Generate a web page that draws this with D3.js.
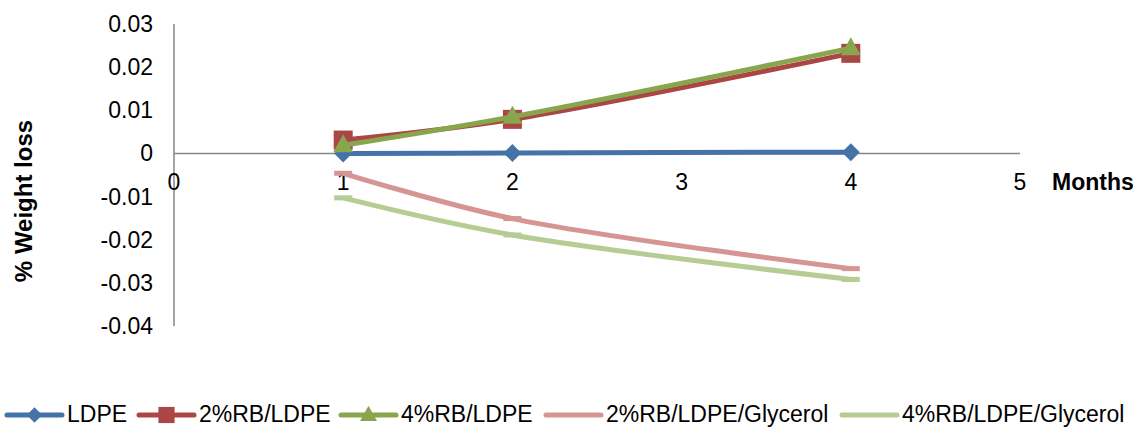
<!DOCTYPE html>
<html>
<head>
<meta charset="utf-8">
<script src="https://cdn.jsdelivr.net/npm/d3@7"></script>
<style>
  body { margin: 0; background: #fff; }
  svg { display: block; font-family: "Liberation Sans", Arial, sans-serif; }
</style>
</head>
<body>
<svg id="chart" width="1137" height="428"></svg>
<script>
// data
var months = [1, 2, 4];
var ldpe = [0.0000, 0.0001, 0.0003];
var rb2 = [0.0031, 0.0079, 0.0232];
var rb4 = [0.0019, 0.0085, 0.0244];
var rb2Gly = [-0.0046, -0.0151, -0.0267];
var rb4Gly = [-0.0103, -0.0189, -0.0292];
var xTicks = [0, 1, 2, 3, 4, 5];
var yTicks = [0.03, 0.02, 0.01, 0, -0.01, -0.02, -0.03, -0.04];

var series = [
    { name: "LDPE", values: ldpe, color: "#4572A7", marker: "diamond" },
    { name: "2%RB/LDPE", values: rb2, color: "#AA4643", marker: "square" },
    { name: "4%RB/LDPE", values: rb4, color: "#89A54E", marker: "triangle" },
    { name: "2%RB/LDPE/Glycerol", values: rb2Gly, color: "#D59593", marker: "dash" },
    { name: "4%RB/LDPE/Glycerol", values: rb4Gly, color: "#B5CC92", marker: "dash" }
];

var svg = d3.select("#chart");

var x = d3.scaleLinear().domain([0, 5]).range([174, 1020]);
var y = d3.scaleLinear().domain([-0.04, 0.03]).range([326, 24]);

// axes
var axisColor = "#868686";
svg.append("line")
    .attr("x1", x(0)).attr("x2", x(0))
    .attr("y1", y(0.03)).attr("y2", y(-0.04))
    .attr("stroke", axisColor).attr("stroke-width", 1.5);
svg.append("line")
    .attr("x1", x(0)).attr("x2", x(5))
    .attr("y1", y(0)).attr("y2", y(0))
    .attr("stroke", axisColor).attr("stroke-width", 1.5);

svg.selectAll(".ytick").data(yTicks).enter().append("text")
    .attr("class", "ytick")
    .attr("x", 153)
    .attr("y", (d) => y(d))
    .attr("dy", "0.35em")
    .attr("text-anchor", "end")
    .attr("font-size", 23)
    .text((d) => d === 0 ? "0" : d3.format(".2f")(d).replace("−", "-"));

svg.selectAll(".xtick").data(xTicks).enter().append("text")
    .attr("class", "xtick")
    .attr("x", (d) => x(d))
    .attr("y", 182)
    .attr("dy", "0.35em")
    .attr("text-anchor", "middle")
    .attr("font-size", 23)
    .text((d) => d);

svg.append("text")
    .attr("x", 1052).attr("y", 182).attr("dy", "0.35em")
    .attr("font-size", 23).attr("font-weight", "bold")
    .text("Months");

svg.append("text")
    .attr("transform", "translate(24,201) rotate(-90)")
    .attr("text-anchor", "middle")
    .attr("dy", "0.35em")
    .attr("font-size", 24).attr("font-weight", "bold")
    .text("% Weight loss");

function drawMarker(g, type, color) {
    if (type === "diamond") {
        g.append("path").attr("d", "M0,-9L9,0L0,9L-9,0Z").attr("fill", color);
    } else if (type === "square") {
        g.append("rect").attr("x", -9.5).attr("y", -9.5).attr("width", 19).attr("height", 19)
            .attr("fill", color);
    } else if (type === "triangle") {
        g.append("path").attr("d", "M0,-11L10,7L-10,7Z").attr("fill", color);
    } else if (type === "dash") {
        g.append("rect").attr("x", -9).attr("y", -2.5).attr("width", 18).attr("height", 5)
            .attr("fill", color);
    }
}

var lineGen = d3.line()
    .x((d, i) => x(months[i]))
    .y((d) => y(d))
    .curve(d3.curveCatmullRom.alpha(0.5));

// draw glycerol first, then solid series on top
var order = [3, 4, 0, 1, 2];
order.forEach(function (k) {
    var s = series[k];
    var g = svg.append("g");
    g.append("path")
        .datum(s.values)
        .attr("d", lineGen)
        .attr("fill", "none")
        .attr("stroke", s.color)
        .attr("stroke-width", 5)
        .attr("stroke-linejoin", "round");
    s.values.forEach(function (v, i) {
        var m = g.append("g").attr("transform", "translate(" + x(months[i]) + "," + y(v) + ")");
        drawMarker(m, s.marker, s.color);
    });
});

// legend
var legendY = 415;
var legendX = [7, 139, 341, 546, 842];
series.forEach(function (s, i) {
    var g = svg.append("g").attr("transform", "translate(" + legendX[i] + "," + legendY + ")");
    g.append("line")
        .attr("x1", 0).attr("x2", 55)
        .attr("stroke", s.color).attr("stroke-width", 5)
        .attr("stroke-linecap", "round");
    if (s.marker !== "dash") {
        var m = g.append("g").attr("transform", "translate(27.5,0) scale(0.85)");
        drawMarker(m, s.marker, s.color);
    }
    g.append("text")
        .attr("x", 60).attr("y", 7)
        .attr("font-size", 23)
        .text(s.name);
});
</script>
</body>
</html>
